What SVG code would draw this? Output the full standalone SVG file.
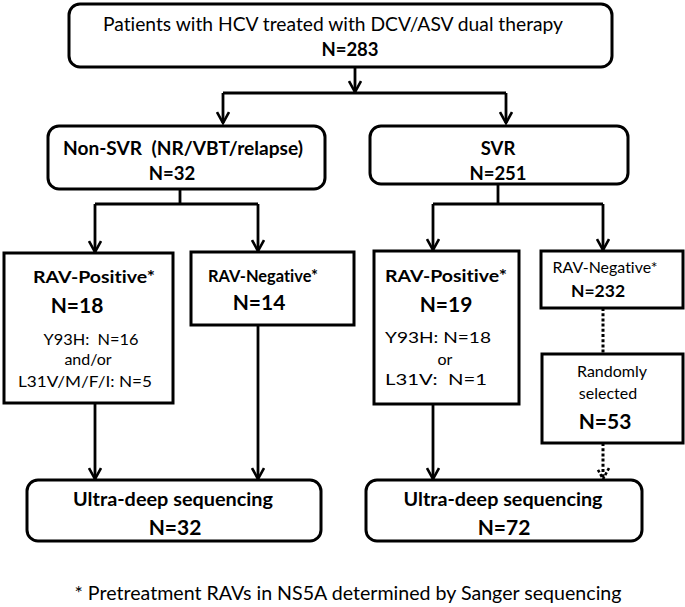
<svg xmlns="http://www.w3.org/2000/svg" width="685" height="607" viewBox="0 0 685 607">
<defs>
<style>
.box{fill:#fff;stroke:#000;stroke-width:3}
.ln{fill:none;stroke:#000;stroke-width:2.8}
.dot{fill:none;stroke:#000;stroke-width:3;stroke-dasharray:3 2.2}
text{font-family:Lato,"Liberation Sans",sans-serif;fill:#000;text-anchor:middle;white-space:pre;font-variant-ligatures:none;font-feature-settings:"liga" 0,"clig" 0}
.r{font-weight:400}
.b{font-weight:700}
</style>
<marker id="ah" viewBox="0 0 14 14" refX="12.5" refY="7" markerWidth="14" markerHeight="14" markerUnits="userSpaceOnUse" orient="auto">
<path d="M1.5,1 L12.5,7 L1.5,13" fill="none" stroke="#000" stroke-width="2.6"/>
</marker>
<marker id="ahd" viewBox="0 0 14 14" refX="12.5" refY="7" markerWidth="14" markerHeight="14" markerUnits="userSpaceOnUse" orient="auto">
<path d="M1.5,1 L12.5,7 L1.5,13" fill="none" stroke="#000" stroke-width="2.6" stroke-dasharray="3 2"/>
</marker>
</defs>

<g id="connectors">
<path class="ln" d="M355,67 V92" marker-end="url(#ah)"/>
<path class="ln" d="M223,93 H506"/>
<path class="ln" d="M223,93 V123" marker-end="url(#ah)"/>
<path class="ln" d="M506,93 V123" marker-end="url(#ah)"/>
<path class="ln" d="M180,189 V204 M95,204 H258 M498,184 V204 M433,204 H603"/>
<path class="ln" d="M95,204 V252" marker-end="url(#ah)"/>
<path class="ln" d="M258,204 V251" marker-end="url(#ah)"/>
<path class="ln" d="M433,204 V250" marker-end="url(#ah)"/>
<path class="ln" d="M603,204 V250" marker-end="url(#ah)"/>
<path class="ln" d="M95,403 V479" marker-end="url(#ah)"/>
<path class="ln" d="M258,325 V479" marker-end="url(#ah)"/>
<path class="ln" d="M433,404 V479" marker-end="url(#ah)"/>
<path class="dot" d="M603,308 V354"/>
<path class="dot" d="M603,443 V479" marker-end="url(#ahd)"/>
</g>

<g id="n-top">
<rect class="box" x="69" y="4" width="543" height="63" rx="11"/>
<text class="r" x="333" y="31" font-size="18.5" textLength="460" lengthAdjust="spacingAndGlyphs">Patients with HCV treated with DCV/ASV dual therapy</text>
<text class="b" x="350" y="56" font-size="18.5">N=283</text>
</g>

<g id="n-nonsvr">
<rect class="box" x="48" y="126" width="277" height="63" rx="11"/>
<text class="b" x="183" y="155" font-size="18" textLength="240" lengthAdjust="spacingAndGlyphs">Non-SVR  (NR/VBT/relapse)</text>
<text class="b" x="172" y="180" font-size="18.5">N=32</text>
</g>

<g id="n-svr">
<rect class="box" x="370" y="126" width="258" height="58" rx="11"/>
<text class="b" x="498" y="155" font-size="18.5">SVR</text>
<text class="b" x="498" y="180" font-size="18.5">N=251</text>
</g>

<g id="n-ravpos-l">
<rect class="box" x="4" y="253" width="169" height="150"/>
<text class="b" x="94" y="283" font-size="17.5" textLength="122" lengthAdjust="spacingAndGlyphs">RAV-Positive*</text>
<text class="b" x="77" y="313" font-size="21">N=18</text>
<text class="r" x="91" y="345" font-size="16" textLength="95" lengthAdjust="spacingAndGlyphs">Y93H:  N=16</text>
<text class="r" x="88" y="365" font-size="16">and/or</text>
<text class="r" x="85" y="387" font-size="16" textLength="134" lengthAdjust="spacingAndGlyphs">L31V/M/F/I: N=5</text>
</g>

<g id="n-ravneg-l">
<rect class="box" x="191" y="252" width="163" height="73"/>
<text class="b" x="263" y="282" font-size="17.5" textLength="110" lengthAdjust="spacingAndGlyphs">RAV-Negative*</text>
<text class="b" x="259" y="310" font-size="21">N=14</text>
</g>

<g id="n-ravpos-r">
<rect class="box" x="374" y="251" width="145" height="153"/>
<text class="b" x="446" y="282" font-size="17.5" textLength="122" lengthAdjust="spacingAndGlyphs">RAV-Positive*</text>
<text class="b" x="446" y="312" font-size="21">N=19</text>
<text class="r" x="438" y="343" font-size="16" textLength="106" lengthAdjust="spacingAndGlyphs">Y93H: N=18</text>
<text class="r" x="445" y="365" font-size="16">or</text>
<text class="r" x="436" y="385" font-size="16" textLength="102" lengthAdjust="spacingAndGlyphs">L31V:  N=1</text>
</g>

<g id="n-ravneg-r">
<rect class="box" x="541" y="251" width="142" height="57"/>
<text class="r" x="605" y="273" font-size="16" textLength="105" lengthAdjust="spacingAndGlyphs">RAV-Negative*</text>
<text class="b" x="598" y="297" font-size="17.5">N=232</text>
</g>

<g id="n-random">
<rect class="box" x="542" y="354" width="141" height="89"/>
<text class="r" x="612" y="377" font-size="16">Randomly</text>
<text class="r" x="608" y="399" font-size="16">selected</text>
<text class="b" x="605" y="429" font-size="21">N=53</text>
</g>

<g id="n-ultra-l">
<rect class="box" x="27" y="480" width="294" height="61" rx="11"/>
<text class="b" x="173" y="506" font-size="18.5" textLength="200" lengthAdjust="spacingAndGlyphs">Ultra-deep sequencing</text>
<text class="b" x="175" y="535" font-size="21">N=32</text>
</g>

<g id="n-ultra-r">
<rect class="box" x="366" y="480" width="276" height="61" rx="11"/>
<text class="b" x="503" y="506" font-size="18.5" textLength="199" lengthAdjust="spacingAndGlyphs">Ultra-deep sequencing</text>
<text class="b" x="504" y="535" font-size="21">N=72</text>
</g>

<text id="footnote" class="r" x="348" y="600" font-size="18.5" textLength="547" lengthAdjust="spacingAndGlyphs">* Pretreatment RAVs in NS5A determined by Sanger sequencing</text>
</svg>
